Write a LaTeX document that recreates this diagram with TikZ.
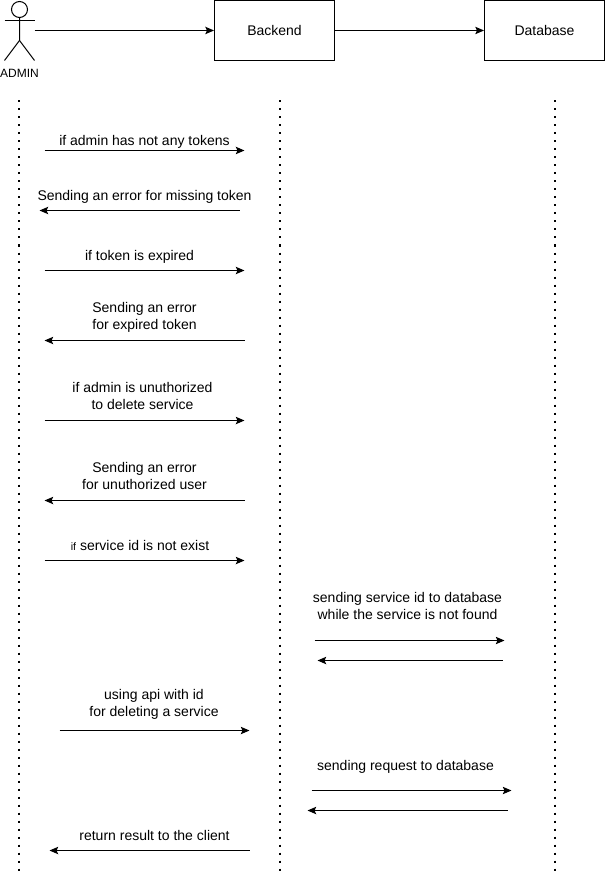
\documentclass[tikz,border=0pt]{standalone}
\usepackage{fontspec}
\setmainfont{Liberation Sans}
\usetikzlibrary{arrows.meta}

\begin{document}
\begin{tikzpicture}[
    x=0.75pt, y=-0.75pt,
    every node/.style={inner sep=0pt, align=center, font=\fontsize{10.5}{12.75}\selectfont},
    box/.style={draw=black, line width=0.75pt, minimum width=90pt, minimum height=45pt},
    actor/.style={draw=black, line width=0.75pt},
    lifeline/.style={draw=black, line width=1.5pt, dash pattern=on 1.5pt off 4.5pt},
    arrow/.style={-{Stealth[length=6.5pt, width=5.5pt, inset=1.2pt]}, line width=0.75pt}
]
\useasboundingbox (-0.5,-0.5) rectangle (604.5,872.5);

% Top row
\node[box] (backend) at (274,30) {Backend};
\node[box] (database) at (544,30) {Database};
\node[font=\fontsize{9}{11}\selectfont] (admin) at (19,73) {ADMIN};

% Actor
\draw[actor] (19,9) circle (8);
\draw[actor] (4,20) -- (34,20);
\draw[actor] (19,17) -- (19,40) -- (4,60);
\draw[actor] (19,40) -- (34,60);
\coordinate (adminout) at (34,30);

\draw[arrow] (adminout) -- (backend.west);
\draw[arrow] (backend.east) -- (database.west);

% Lifelines
\foreach \name/\x in {lifeA/18.5, lifeB/279, lifeC/554} {
    \coordinate (\name top) at (\x,100);
    \coordinate (\name bot) at (\x,871);
    \draw[lifeline] (\name top) -- (\name bot);
}

% Arrow ends
\foreach \name/\xa/\xb/\y in {
    m1/44/244/150, m2/239/39/210, m3/44/244/270, m4/244/44/340,
    m5/44/244/420, m6/244/44/500, m7/44/244/560, m8/314/504/640,
    m9/502/317/660, m10/59/249/730, m11/311/511/790, m12/507/307/810,
    m13/249/49/850} {
    \coordinate (\name s) at (\xa,\y);
    \coordinate (\name e) at (\xb,\y);
    \draw[arrow] (\name s) -- (\name e);
}

% Labels
\node (l1) at (144,141) {if admin has not any tokens};
\node (l2) at (144,196) {Sending an error for missing token};
\node (l3) at (139,256) {if token is expired};
\node (l4) at (144,317) {Sending an error\\for expired token};
\node (l5) at (142,395.5) {if admin is unuthorized\\to delete service};
\node (l6) at (144,475.5) {Sending an error\\for unuthorized user};
\node (l7) at (139.5,545) {{\fontsize{8}{9}\selectfont if} service id is not exist};
\node (l8) at (407,605.5) {sending service id to database\\while the service is not found};
\node (l9) at (153.5,703.5) {using api with id\\for deleting a service};
\node (l10) at (405,766) {sending request to database};
\node (l11) at (154,835) {return result to the client};

\end{tikzpicture}
\end{document}
